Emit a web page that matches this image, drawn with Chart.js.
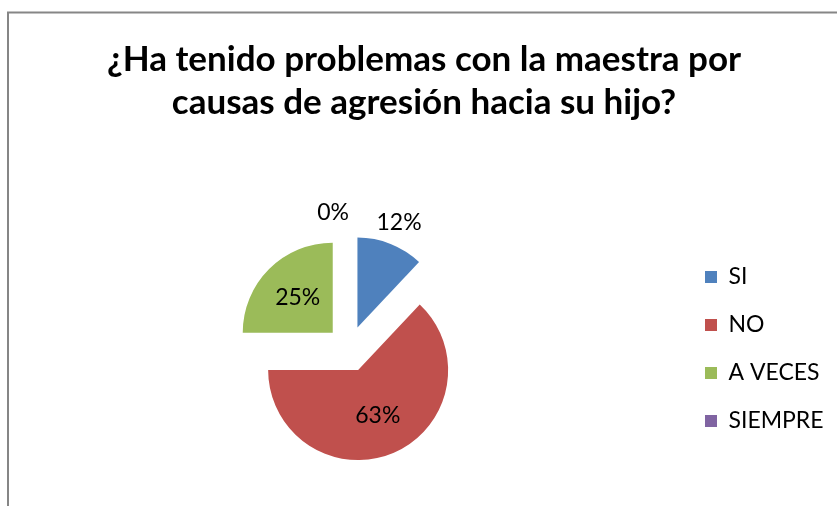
<!DOCTYPE html>
<html>
<head>
<meta charset="utf-8">
<script src="https://cdn.jsdelivr.net/npm/chart.js@4"></script>
<style>
  html, body { margin: 0; padding: 0; background: #fff; }
  #wrap { width: 837px; height: 506px; }
</style>
</head>
<body>
<div id="wrap"><canvas id="chart" width="837" height="506"></canvas></div>
<script>
// Chart data
const titleLines = ['¿Ha tenido problemas con la maestra por', 'causas de agresión hacia su hijo?'];
const categories = ['SI', 'NO', 'A VECES', 'SIEMPRE'];
const percentages = [12, 63, 25, 0];
const sliceColors = ['#4F81BD', '#C0504D', '#9BBB59', '#8064A2'];

const FONT = 'Lato, "Open Sans", sans-serif';
const EXPLODE = 23; // px each slice is pulled out from the centre

// Draw every slice pulled out along its mid angle (Excel style explosion)
const explodePlugin = {
    id: 'explode',
    beforeDatasetDraw(chart, args) {
        const ctx = chart.ctx;
        args.meta.data.forEach((arc) => {
            const a = (arc.startAngle + arc.endAngle) / 2;
            ctx.save();
            ctx.translate(Math.cos(a) * EXPLODE, Math.sin(a) * EXPLODE);
            arc.draw(ctx);
            ctx.restore();
        });
        return false;
    },
};

// Percentage labels, small slices outside, big ones inside
const labelPlugin = {
    id: 'pctLabels',
    afterDatasetsDraw(chart) {
        const ctx = chart.ctx;
        const meta = chart.getDatasetMeta(0);
        ctx.save();
        ctx.font = '23px ' + FONT;
        ctx.fillStyle = '#000';
        ctx.textBaseline = 'middle';
        meta.data.forEach((arc, i) => {
            const v = percentages[i];
            const a = (arc.startAngle + arc.endAngle) / 2;
            const ax = arc.x + Math.cos(a) * EXPLODE;
            const ay = arc.y + Math.sin(a) * EXPLODE;
            const r = arc.outerRadius;
            let dist = v < 20 ? r + 23 : r * 0.55;
            ctx.textAlign = v === 0 ? 'right' : 'center';
            ctx.fillText(v + '%', ax + Math.cos(a) * dist, ay + Math.sin(a) * dist);
        });
        ctx.restore();
    },
};

// Thin grey frame of the chart area (only top and left fall inside the picture)
const framePlugin = {
    id: 'frame',
    beforeDraw(chart) {
        const ctx = chart.ctx;
        ctx.save();
        ctx.strokeStyle = '#868686';
        ctx.lineWidth = 2;
        ctx.strokeRect(8, 12.5, 900, 600);
        ctx.restore();
    },
};

const ctx = document.getElementById('chart').getContext('2d');
new Chart(ctx, {
    type: 'pie',
    data: {
        labels: categories,
        datasets: [{
            data: percentages,
            backgroundColor: sliceColors,
            borderWidth: 0,
        }],
    },
    options: {
        responsive: false,
        animation: false,
        radius: 90,
        layout: { padding: { left: 18, right: 7, top: 0, bottom: 0 } },
        plugins: {
            title: {
                display: true,
                text: titleLines,
                color: '#000',
                font: { family: FONT, size: 35, weight: 'bold', lineHeight: 43 / 35 },
                padding: { top: 38.5, bottom: 67.5 },
            },
            legend: {
                position: 'right',
                fullSize: false,
                maxWidth: 150,
                labels: {
                    color: '#000',
                    boxWidth: 12,
                    boxHeight: 12,
                    padding: 25,
                    font: { family: FONT, size: 23 },
                },
            },
            tooltip: { enabled: false },
        },
    },
    plugins: [framePlugin, explodePlugin, labelPlugin],
});
</script>
</body>
</html>
